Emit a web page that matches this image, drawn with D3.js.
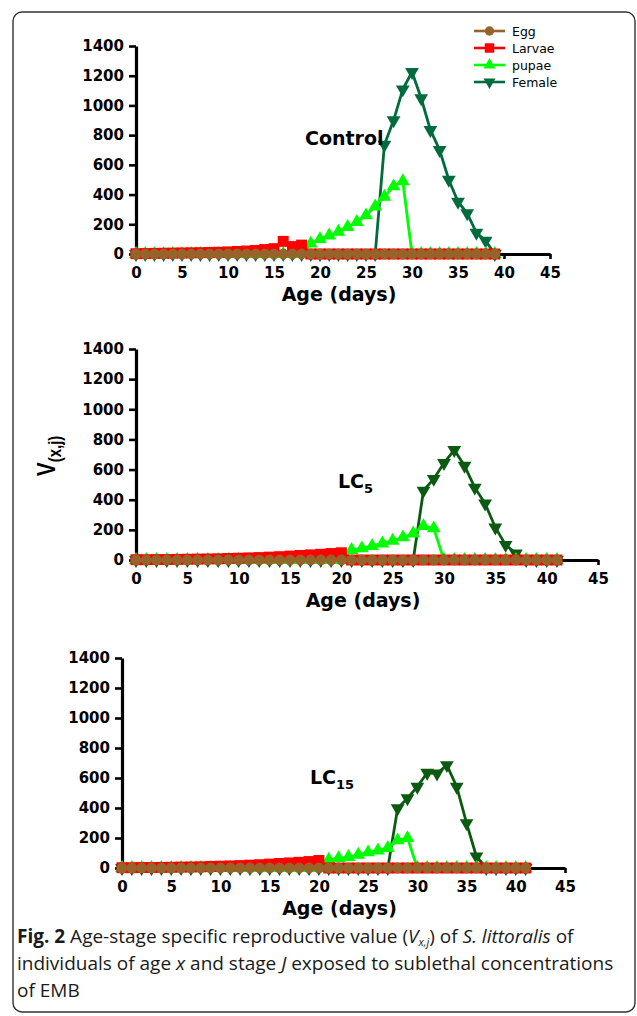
<!DOCTYPE html>
<html>
<head>
<meta charset="utf-8">
<script src="https://cdn.jsdelivr.net/npm/d3@7"></script>
<style>
  body { margin: 0; background: #fff; }
  svg { display: block; }
</style>
</head>
<body>
<div id="chart"></div>
<script>
// V(x,j), one value per day of age (index = age in days)
const controlEgg    = [0,0,0,0,0,0,0,0,0,0, 0,0,0,0,0,0,0,0,0,0, 0,0,0,0,0,0,0,0,0,0, 0,0,0,0,0,0,0,0,0,0];
const controlLarvae = [2,3,4,5,6,7,8,9,10,12, 14,17,20,24,30,36,85,50,60,0, 0,0,0,0,0,0,0,0,0,0, 0,0,0,0,0,0,0,0,0,0];
const controlPupae  = [0,0,0,0,0,0,0,0,0,0, 0,0,0,0,0,0,0,0,0,70, 100,125,150,182,215,260,320,385,455,490, 0,0,0,0,0,0,0,0,0,0];
const controlFemale = [0,0,0,0,0,0,0,0,0,0, 0,0,0,0,0,0,0,0,0,0, 0,0,0,0,0,0,0,735,900,1108, 1225,1048,835,700,500,352,274,143,90,0];

const lc5Egg    = [0,0,0,0,0,0,0,0,0,0, 0,0,0,0,0,0,0,0,0,0, 0,0,0,0,0,0,0,0,0,0, 0,0,0,0,0,0,0,0,0,0, 0,0];
const lc5Larvae = [2,2,3,3,4,5,6,7,8,10, 12,14,16,19,22,26,30,34,38,43, 48,0,0,0,0,0,0,0,0,0, 0,0,0,0,0,0,0,0,0,0, 0,0];
const lc5Pupae  = [0,0,0,0,0,0,0,0,0,0, 0,0,0,0,0,0,0,0,0,0, 0,66,77,93,110,128,150,176,225,210, 0,0,0,0,0,0,0,0,0,0, 0,0];
const lc5Female = [0,0,0,0,0,0,0,0,0,0, 0,0,0,0,0,0,0,0,0,0, 0,0,0,0,0,0,0,0,460,538, 643,730,625,480,375,216,100,44,0,0, 0,0];

const lc15Egg    = [0,0,0,0,0,0,0,0,0,0, 0,0,0,0,0,0,0,0,0,0, 0,0,0,0,0,0,0,0,0,0, 0,0,0,0,0,0,0,0,0,0, 0,0];
const lc15Larvae = [2,2,3,3,4,5,6,7,8,10, 12,14,16,19,22,26,30,34,38,43, 50,0,0,0,0,0,0,0,0,0, 0,0,0,0,0,0,0,0,0,0, 0,0];
const lc15Pupae  = [0,0,0,0,0,0,0,0,0,0, 0,0,0,0,0,0,0,0,0,0, 0,55,66,73,88,104,117,133,184,199, 0,0,0,0,0,0,0,0,0,0, 0,0];
const lc15Female = [0,0,0,0,0,0,0,0,0,0, 0,0,0,0,0,0,0,0,0,0, 0,0,0,0,0,0,0,0,398,465, 542,635,630,686,542,299,77,0,0,0, 0,0];

const stages = ["Egg", "Larvae", "pupae", "Female"];
const xTicks = [0, 5, 10, 15, 20, 25, 30, 35, 40, 45];
const yTicks = [0, 200, 400, 600, 800, 1000, 1200, 1400];

const W = 637, H = 1016;
const boldFont = "'DejaVu Sans', sans-serif";

//colours + marker shapes for each stage
const stageColor = { Egg: "#96642a", Larvae: "#ff0000", pupae: "#00ff00", Female: "#006b3c" };
const stageSymbol = { Egg: d3.symbolCircle, Larvae: d3.symbolSquare, pupae: d3.symbolTriangle, Female: d3.symbolTriangle };
const stageSize = { Egg: 92, Larvae: 120, pupae: 82, Female: 82 };

let svg = d3.select("#chart").append("svg")
            .attr("width", W)
            .attr("height", H);

//rounded frame round the whole figure
svg.append("rect")
   .attr("x", 13).attr("y", 12)
   .attr("width", 622).attr("height", 1000)
   .attr("rx", 9)
   .style("fill", "none")
   .style("stroke", "#333")
   .style("stroke-width", 1.4);

const panels = [
  { name: "Control", sub: "", left: 136, right: 550, top: 46, bottom: 254, female: "#006b3c",
    labelX: 305, labelY: 145, series: { Egg: controlEgg, Larvae: controlLarvae, pupae: controlPupae, Female: controlFemale } },
  { name: "LC", sub: "5", left: 136, right: 598, top: 349, bottom: 560, female: "#0b5a12",
    labelX: 338, labelY: 488, series: { Egg: lc5Egg, Larvae: lc5Larvae, pupae: lc5Pupae, Female: lc5Female } },
  { name: "LC", sub: "15", left: 122, right: 565, top: 658, bottom: 868, female: "#0b5a12",
    labelX: 310, labelY: 784, series: { Egg: lc15Egg, Larvae: lc15Larvae, pupae: lc15Pupae, Female: lc15Female } }
];

panels.forEach(drawPanel);

function drawPanel(p) {
  const x = d3.scaleLinear().domain([0, 45]).range([p.left, p.right]);
  const y = d3.scaleLinear().domain([0, 1400]).range([p.bottom, p.top]);
  let g = svg.append("g");

  //axes
  let gx = g.append("g")
            .attr("transform", `translate(0,${p.bottom})`)
            .call(d3.axisBottom(x).tickValues(xTicks).tickFormat(d3.format("d"))
                    .tickSize(5).tickSizeOuter(0).tickPadding(8));
  let gy = g.append("g")
            .attr("transform", `translate(${p.left},0)`)
            .call(d3.axisLeft(y).tickValues(yTicks).tickFormat(d3.format("d"))
                    .tickSize(7).tickSizeOuter(0).tickPadding(5));
  [gx, gy].forEach(function(a) {
    a.select(".domain").style("stroke", "#000").style("stroke-width", 3.2);
    a.selectAll(".tick line").style("stroke", "#000").style("stroke-width", 2.6);
    a.selectAll(".tick text")
     .style("font-family", boldFont)
     .style("font-weight", "bold")
     .style("font-size", "15px")
     .style("fill", "#000");
  });

  //x axis title
  g.append("text")
   .attr("x", (p.left + p.right) / 2 - 4)
   .attr("y", p.bottom + 47)
   .style("text-anchor", "middle")
   .style("font-family", boldFont)
   .style("font-weight", "bold")
   .style("font-size", "19px")
   .text("Age (days)");

  //series, female at the back, egg on top
  const order = ["Female", "pupae", "Larvae", "Egg"];
  order.forEach(function(s) {
    const vals = p.series[s];
    const col = s === "Female" ? p.female : stageColor[s];
    const line = d3.line().x(function(d, i) { return x(i); }).y(function(d) { return y(d); });
    g.append("path")
     .datum(vals)
     .attr("d", line)
     .style("fill", "none")
     .style("stroke", col)
     .style("stroke-width", 2.8);
    g.append("g")
     .selectAll("path")
     .data(vals)
     .enter()
     .append("path")
     .attr("d", d3.symbol().type(stageSymbol[s]).size(stageSize[s]))
     .attr("transform", function(d, i) {
       return `translate(${x(i)},${y(d)})` + (s === "Female" ? " rotate(180)" : "");
     })
     .style("fill", col);
  });

  //treatment label
  let t = g.append("text")
           .attr("x", p.labelX)
           .attr("y", p.labelY)
           .style("font-family", boldFont)
           .style("font-weight", "bold")
           .style("font-size", "19px");
  t.append("tspan").text(p.name);
  if (p.sub) {
    t.append("tspan").attr("dy", 5).style("font-size", "13px").text(p.sub);
  }
}

//legend (top panel only)
let legend = svg.append("g");
stages.forEach(function(s, i) {
  const ly = 31 + i * 17;
  legend.append("line")
        .attr("x1", 474).attr("x2", 505).attr("y1", ly).attr("y2", ly)
        .style("stroke", stageColor[s]).style("stroke-width", 2.6);
  legend.append("path")
        .attr("d", d3.symbol().type(stageSymbol[s]).size(stageSize[s] * 0.75))
        .attr("transform", `translate(489.5,${ly})` + (s === "Female" ? " rotate(180)" : ""))
        .style("fill", stageColor[s]);
  legend.append("text")
        .attr("x", 512).attr("y", ly + 4.5)
        .style("font-family", "'DejaVu Sans', sans-serif")
        .style("font-size", "12.5px")
        .text(s);
});

//y axis title, shared
let ylab = svg.append("text")
              .attr("transform", "translate(55,456) rotate(-90) scale(1,1.25)")
              .style("text-anchor", "middle")
              .style("font-family", "'Liberation Sans', Arial, sans-serif")
              .style("font-weight", "bold")
              .style("font-size", "21px");
ylab.append("tspan").text("V");
ylab.append("tspan").attr("dy", 5).style("font-size", "15px").text("(x,j)");

//caption, one text per line
const capFont = "'Open Sans', sans-serif";
function capLine(yPos) {
  return svg.append("text")
            .attr("x", 17)
            .attr("y", yPos)
            .style("font-family", capFont)
            .style("font-size", "19px")
            .style("fill", "#1a1a1a");
}
let l1 = capLine(943);
l1.append("tspan").style("font-weight", "bold").text("Fig. 2");
l1.append("tspan").text(" Age-stage specific reproductive value (");
l1.append("tspan").style("font-style", "italic").text("V");
l1.append("tspan").style("font-style", "italic").style("font-size", "11px").attr("dy", 3).text("x,j");
l1.append("tspan").attr("dy", -3).text(") of ");
l1.append("tspan").style("font-style", "italic").text("S. littoralis");
l1.append("tspan").text(" of");
let l2 = capLine(970);
l2.append("tspan").text("individuals of age ");
l2.append("tspan").style("font-style", "italic").text("x");
l2.append("tspan").text(" and stage ");
l2.append("tspan").style("font-style", "italic").text("J");
l2.append("tspan").text(" exposed to sublethal concentrations");
capLine(997).text("of EMB");
</script>
</body>
</html>
